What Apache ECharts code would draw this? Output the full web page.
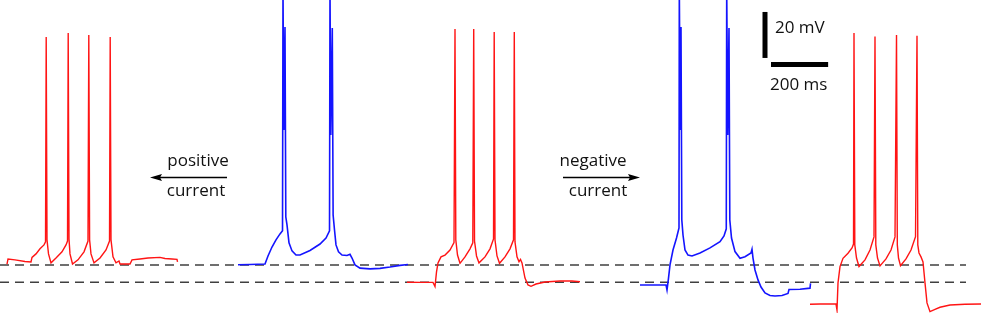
<!DOCTYPE html>
<html>
<head>
<meta charset="utf-8">
<script src="https://cdn.jsdelivr.net/npm/echarts@6/dist/echarts.min.js"></script>
<style>
html,body{margin:0;padding:0;background:#fff;}
#chart{width:981px;height:313px;}
</style>
</head>
<body>
<div id="chart"></div>
<script>
// ---- Data (time in ms, membrane potential in mV) ----
// Trace 1 (red, control)
var trace1T = [24.5, 28, 52.5, 87.5, 108.5, 112, 126, 140, 154, 159.3, 161.7, 164.5, 169.8, 178.5, 196, 217, 231, 236.3, 238.7, 241.5, 245, 253.8, 273, 294, 308, 310.8, 313.6, 318.5, 329, 350, 371, 383.3, 385.7, 388.5, 395.5, 406, 413, 416.5, 420, 455, 462, 490, 518, 560, 577.5, 602, 619.5, 621.3];
var trace1V = [-59.6, -57.4, -57.8, -58.5, -58.7, -56.7, -55.2, -53, -51.3, -50, 39.1, -49.1, -55.2, -59.1, -57, -54.3, -51.3, -49.6, 40.9, -48.7, -55.2, -59.6, -57.8, -54.3, -49.6, 40, -49.1, -55.2, -59.1, -57, -53.5, -49.6, 39.1, -49.1, -56.5, -59.1, -59.6, -58.3, -59.6, -59.6, -57.8, -57.4, -57, -56.7, -57.2, -57.4, -57.6, -58.7];

// Trace 2 (blue, positive current)
var trace2T = [833, 875, 927.5, 938, 952, 966, 980, 988.8, 990.5, 993.3, 997.5, 1000.3, 1004.5, 1011.5, 1022, 1036, 1050, 1085, 1120, 1141, 1153.3, 1155, 1157.8, 1163, 1165.9, 1170.8, 1176, 1184.8, 1197, 1214.5, 1225, 1232, 1242.5, 1260, 1295, 1330, 1365, 1400, 1428];
var trace2V = [-59.9, -59.8, -59.6, -56.1, -52.2, -49.1, -46.5, -45.1, 60, -1.3, 43.5, -39.1, -42.6, -50.4, -53.9, -55.7, -55.7, -53.7, -50.9, -48.3, -45.2, 60, -3.5, 43, -38.3, -44.8, -51.3, -54.3, -55.7, -55.9, -55.4, -57, -60, -61.4, -61.7, -61.5, -60.9, -60.2, -59.8];

// Trace 3 (red, after positive current)
var trace3T = [1424.5, 1470, 1515.5, 1522.5, 1527.8, 1533, 1543.5, 1557.5, 1575, 1589, 1592.5, 1595.3, 1601.3, 1610, 1627.5, 1645, 1654.8, 1658, 1660.8, 1667.8, 1676.5, 1697.5, 1715, 1727.3, 1729.7, 1732.5, 1739.5, 1748.3, 1767.5, 1785, 1797.3, 1800, 1802.5, 1809.5, 1816.5, 1821.8, 1827, 1837.5, 1848, 1858.5, 1876, 1907.5, 1960, 2002, 2030];
var trace3V = [-67.5, -67.6, -67.6, -69.4, -63, -59.1, -56.5, -55.7, -53.5, -50.3, 42.6, -49.1, -55.7, -59.3, -56.5, -53, -50.4, 42.6, -49.6, -56.1, -59.1, -56.5, -53, -48.7, 41.3, -49.1, -56.1, -59.3, -56.5, -53, -49.1, 41.3, -50, -56.5, -58.6, -57.6, -59.1, -65.7, -68.7, -69.3, -68.3, -67.4, -67, -67, -67.3];

// Trace 4 (blue, negative current)
var trace4T = [2240, 2292.5, 2331, 2334.5, 2339.8, 2345, 2355.5, 2367.8, 2376.5, 2377.6, 2380.7, 2383.5, 2386.3, 2390.5, 2397.5, 2408, 2422, 2450, 2485, 2520, 2534, 2542, 2543.5, 2547, 2551.5, 2554.3, 2560.3, 2572.5, 2590, 2607.5, 2628.5, 2632, 2635.5, 2642.5, 2653, 2663.5, 2677.5, 2695, 2712.5, 2737, 2758, 2761.5, 2800, 2835, 2836.8];
var trace4V = [-68.7, -68.7, -68.7, -70.9, -65.7, -60, -53.5, -48.3, -43.9, 60, -1.3, 43.5, -40.4, -47, -53.5, -55.7, -56.1, -54.8, -52.6, -49.9, -47.4, -44.3, 60, -3.5, 43, -40.4, -48.3, -54.2, -57.1, -56.4, -54.8, -53.2, -57, -62.2, -66.5, -69.6, -72.2, -73.3, -73.5, -73.3, -72.4, -70.7, -70.6, -70.1, -68];

// Trace 5 (red, after negative current)
var trace5T = [2835, 2870, 2926, 2929.5, 2933, 2940, 2950.5, 2968, 2982, 2987.3, 2989, 2991.8, 2997.8, 3006.5, 3027.5, 3045, 3059, 3062.5, 3065.3, 3071.3, 3080, 3101, 3118.5, 3132.5, 3137.8, 3140.6, 3144.8, 3151.8, 3171, 3188.5, 3204.3, 3209.5, 3212.3, 3216.5, 3223.5, 3227, 3230.5, 3237.5, 3244.5, 3255, 3272.5, 3290, 3325, 3377.5, 3433.5];
var trace5V = [-77.1, -77, -77, -79.6, -67.8, -60.7, -57.1, -54.9, -52.6, -50.9, 40.9, -51.3, -57, -60.7, -57.8, -53.5, -47.8, 39.3, -51.3, -57, -60.4, -57.4, -53.5, -47.8, 40, -51.3, -57, -60.3, -57.4, -53.5, -47.7, 39.7, -51.3, -54.8, -56.5, -56.1, -58.7, -67.8, -76.5, -80.3, -79.3, -78.4, -77.4, -77.1, -77];

// Reference (dashed) resting levels, mV, and their time span, ms
var restLevels = [-60, -67.5];
var restSpan = [0, 3381];

// Scale bars
var scaleBarMv = 20;        // vertical bar height
var scaleBarMs = 200;       // horizontal bar length
var scaleBarOrigin = [2677.5, 30];   // [ms, mV] bottom of vertical bar
var scaleBarHOrigin = [2698.5, 27.2]; // [ms, mV] left end of horizontal bar

// Annotation texts
var labelVertical = '20 mV';
var labelHorizontal = '200 ms';
var labelPos = 'positive';
var labelNeg = 'negative';
var labelCurrent = 'current';

// ---- Build ----
function zipTV(t, v) { return t.map(function (x, i) { return [x, v[i]]; }); }

var RED = '#ff1414';
var BLUE = '#1414ff';

var series = [];
restLevels.forEach(function (lv) {
  series.push({
    type: 'line', data: [[restSpan[0], lv], [restSpan[1], lv]],
    showSymbol: false, silent: true, z: 1,
    lineStyle: { color: '#404040', width: 1.5, type: [9, 6] }
  });
});
[[trace1T, trace1V, RED], [trace2T, trace2V, BLUE], [trace3T, trace3V, RED], [trace4T, trace4V, BLUE], [trace5T, trace5V, RED]].forEach(function (tr) {
  series.push({
    type: 'line', data: zipTV(tr[0], tr[1]), showSymbol: false, silent: true, z: 3,
    lineStyle: { color: tr[2], width: tr[2] === BLUE ? 1.6 : 1.4, join: 'miter' }
  });
});
// Scale bars
series.push({
  type: 'line', showSymbol: false, silent: true, z: 4,
  data: [[scaleBarOrigin[0], scaleBarOrigin[1]], [scaleBarOrigin[0], scaleBarOrigin[1] + scaleBarMv]],
  lineStyle: { color: '#000', width: 5, cap: 'butt' }
});
series.push({
  type: 'line', showSymbol: false, silent: true, z: 4,
  data: [[scaleBarHOrigin[0], scaleBarHOrigin[1]], [scaleBarHOrigin[0] + scaleBarMs, scaleBarHOrigin[1]]],
  lineStyle: { color: '#000', width: 5, cap: 'butt' }
});

var FONT = '"Open Sans", sans-serif';
function txt(s, x, y, align) {
  return { type: 'text', x: x, y: y, z: 10, style: { text: s, fill: '#111', font: '17px ' + FONT, textAlign: align || 'center', textVerticalAlign: 'middle' } };
}
function arrow(x1, x2, y, dir) {
  var head = dir < 0 ? x1 : x2;
  var back = head - dir * 12;
  return [
    { type: 'line', z: 10, shape: { x1: dir < 0 ? x1 + 8 : x1, y1: y, x2: dir < 0 ? x2 : x2 - 8, y2: y }, style: { stroke: '#000', lineWidth: 1.5 } },
    { type: 'polygon', z: 10, shape: { points: [[head, y], [back, y - 3.5], [back + dir * 2, y], [back, y + 3.5]] }, style: { fill: '#000' } }
  ];
}

var chart = echarts.init(document.getElementById('chart'), null, { renderer: 'canvas' });
chart.setOption({
  animation: false,
  backgroundColor: '#fff',
  grid: { left: 0, right: 0, top: 0, bottom: 0, containLabel: false },
  xAxis: { type: 'value', min: 0, max: 3433.5, show: false },
  yAxis: { type: 'value', min: -80.9, max: 55.2, show: false },
  series: series,
  graphic: [
    txt(labelPos, 198, 161),
    txt(labelCurrent, 196, 191),
    txt(labelNeg, 593, 161),
    txt(labelCurrent, 598, 191),
    txt(labelVertical, 775, 28, 'left'),
    txt(labelHorizontal, 770, 85, 'left')
  ].concat(arrow(150, 227, 177.5, -1)).concat(arrow(563, 640, 177.5, 1))
});
</script>
</body>
</html>
